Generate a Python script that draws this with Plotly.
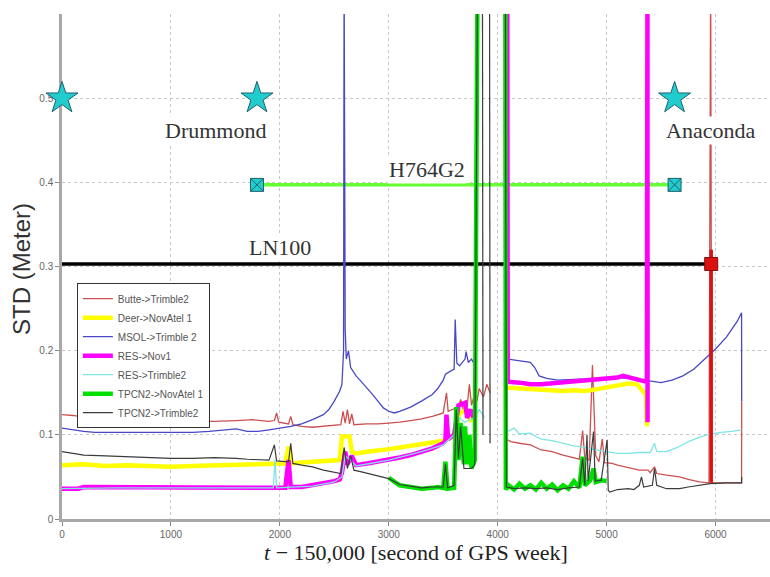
import plotly.graph_objects as go

# ---- receiver-pair STD series (time in s after 150,000 s of GPS week, STD in m) ----
butte_t = [0, 100, 200, 350, 500, 800, 1000, 1200, 1400, 1600, 1750, 1900, 1950, 1970, 1990,
           2080, 2100, 2120, 2200, 2300, 2400, 2500, 2560, 2580, 2600, 2620, 2640, 2660, 2680,
           2800, 2900, 3000, 3100, 3200, 3300, 3400, 3450, 3500, 3530, 3545, 3600, 3640, 3660,
           3680, 3720, 3740, 3760, 3790, 3810, 3830, 3870, 3900, 3930, None,
           4080, 4120, 4200, 4300, 4400, 4500, 4600, 4700, 4750, 4780, 4800, 4840, 4870, 4900,
           4930, 4960, 4980, 5050, 5100, 5200, 5300, 5380, 5400, 5440, 5460, 5550, 5670, 5750,
           5850, 5940, 5955, 5965, 6100, 6239, 6240]
butte_std = [0.124, 0.123, 0.121, 0.119, 0.118, 0.117, 0.116, 0.117, 0.116, 0.117, 0.118, 0.116,
             0.117, 0.126, 0.115, 0.113, 0.122, 0.112, 0.110, 0.109, 0.110, 0.111, 0.112, 0.128,
             0.114, 0.130, 0.113, 0.125, 0.112, 0.113, 0.113, 0.114, 0.115, 0.117, 0.119, 0.122,
             0.124, 0.126, 0.150, 0.128, 0.131, 0.133, 0.142, 0.130, 0.134, 0.160, 0.135, 0.150,
             0.140, 0.155, 0.145, 0.160, 0.150, None,
             0.095, 0.092, 0.090, 0.088, 0.082, 0.080, 0.076, 0.073, 0.071, 0.105, 0.072, 0.070,
             0.183, 0.075, 0.068, 0.095, 0.067, 0.066, 0.064, 0.061, 0.058, 0.058, 0.055, 0.062,
             0.054, 0.052, 0.050, 0.047, 0.044, 0.043, 0.650, 0.043, 0.043, 0.043, 0.140]

deer_t = [0, 200, 400, 600, 800, 1000, 1200, 1400, 1600, 1800, 1950, 2050, 2080, 2110, 2200,
          2300, 2400, 2500, 2550, 2570, 2640, 2660, 2700, 2800, 2900, 3000, 3100, 3200, 3300,
          3400, 3500, 3530, 3600, 3650, 3700, 3760, None,
          4090, 4200, 4300, 4400, 4500, 4600, 4700, 4800, 4900, 5000, 5100, 5200, 5280, 5330,
          5360, 5370]
deer_std = [0.064, 0.065, 0.063, 0.064, 0.063, 0.062, 0.063, 0.064, 0.065, 0.066, 0.066, 0.066,
            0.086, 0.066, 0.067, 0.068, 0.068, 0.069, 0.070, 0.098, 0.098, 0.080, 0.078, 0.080,
            0.081, 0.083, 0.085, 0.087, 0.088, 0.090, 0.093, 0.095, 0.098, 0.125, 0.130, 0.115,
            None,
            0.156, 0.155, 0.154, 0.153, 0.152, 0.152, 0.153, 0.152, 0.154, 0.156, 0.159, 0.161,
            0.160, 0.153, 0.148, 0.110]

msol_t = [0, 100, 200, 300, 500, 800, 1000, 1200, 1350, 1500, 1600, 1700, 1800, 1900, 2000,
          2100, 2200, 2300, 2400, 2450, 2500, 2550, 2570, 2585, 2590, 2600, 2610, 2630, 2650,
          2700, 2750, 2800, 2850, 2900, 2950, 3000, 3050, 3100, 3200, 3300, 3400, 3450, 3500,
          3520, 3560, 3600, 3610, 3625, 3650, 3700, 3710, 3730, 3760, 3780, None,
          4090, 4200, 4300, 4340, 4380, 4450, 4550, 4700, 4900, 5100, 5300, 5400, 5500, 5600,
          5700, 5800, 5900, 6000, 6100, 6200, 6239, 6240]
msol_std = [0.108, 0.106, 0.104, 0.103, 0.103, 0.103, 0.103, 0.103, 0.104, 0.106, 0.107, 0.104,
            0.104, 0.106, 0.108, 0.110, 0.113, 0.118, 0.124, 0.130, 0.140, 0.152, 0.160, 0.200,
            0.650, 0.225, 0.190, 0.200, 0.180, 0.170, 0.163, 0.156, 0.148, 0.140, 0.132, 0.128,
            0.126, 0.128, 0.133, 0.140, 0.148, 0.155, 0.165, 0.172, 0.175, 0.178, 0.237, 0.185,
            0.182, 0.190, 0.199, 0.186, 0.190, 0.185, None,
            0.190, 0.188, 0.186, 0.180, 0.170, 0.167, 0.165, 0.166, 0.167, 0.168, 0.166, 0.164,
            0.162, 0.165, 0.170, 0.178, 0.190, 0.202, 0.216, 0.235, 0.245, 0.140]

resnov_t = [0, 150, 200, 400, 800, 1200, 1600, 1900, 2050, 2080, 2100, 2200, 2300, 2400, 2500,
            2550, 2570, 2600, 2620, 2660, 2700, 2800, 2900, 3000, 3100, 3200, 3300, 3400, 3500,
            3520, 3530, 3545, 3600, 3640, 3700, 3720, 3750, 3780, None,
            4088, 4092, 4200, 4300, 4400, 4500, 4600, 4700, 4800, 4900, 5000, 5100, 5150, 5250,
            5330, 5370, 5375, 5376]
resnov_std = [0.036, 0.036, 0.038, 0.038, 0.038, 0.038, 0.038, 0.038, 0.037, 0.070, 0.038, 0.038,
              0.040, 0.042, 0.045, 0.047, 0.055, 0.080, 0.065, 0.075, 0.064, 0.066, 0.068, 0.070,
              0.073, 0.076, 0.080, 0.084, 0.090, 0.093, 0.124, 0.095, 0.100, 0.135, 0.138, 0.120,
              0.130, 0.120, None,
              0.650, 0.163, 0.162, 0.160, 0.160, 0.161, 0.162, 0.163, 0.164, 0.165, 0.166, 0.168,
              0.170, 0.167, 0.164, 0.163, 0.650, 0.115]

restrim_t = [0, 500, 1000, 1500, 1900, 1940, 1955, 1970, 2300, 2500, 2570, 2600, 2650, 2700,
             3000, 3300, 3500, 3600, 3650, 3700, 3780, 3830, 3880, None,
             4090, 4150, 4200, 4300, 4350, 4400, 4500, 4600, 4700, 4800, 4900, 5000, 5100, 5200,
             5300, 5400, 5440, 5460, 5550, 5650, 5750, 5850, 5950, 6050, 6150, 6239]
restrim_std = [0.036, 0.037, 0.037, 0.037, 0.037, 0.037, 0.070, 0.037, 0.039, 0.044, 0.050,
               0.075, 0.070, 0.063, 0.070, 0.080, 0.088, 0.100, 0.120, 0.115, 0.120, 0.130,
               0.120, None,
               0.104, 0.108, 0.101, 0.102, 0.098, 0.095, 0.093, 0.090, 0.087, 0.085, 0.082,
               0.080, 0.078, 0.078, 0.079, 0.079, 0.090, 0.080, 0.080, 0.085, 0.092, 0.097,
               0.101, 0.103, 0.104, 0.106]

tpcnov_t = [3000, 3050, 3100, 3200, 3300, 3400, 3450, 3500, 3520, 3540, 3600, 3620, 3640, 3660,
            3690, 3700, 3720, 3740, 3760, 3790, 3815, None,
            4070, 4075, 4100, 4150, 4200, 4250, 4300, 4350, 4400, 4450, 4500, 4550, 4600, 4650,
            4700, 4750, 4780, 4800, 4850, 4880, 4900, 4950, 5000]
tpcnov_std = [0.049, 0.044, 0.040, 0.038, 0.036, 0.037, 0.038, 0.037, 0.068, 0.036, 0.037,
              0.133, 0.070, 0.114, 0.065, 0.110, 0.065, 0.100, 0.060, 0.070, 0.650, None,
              0.650, 0.035, 0.040, 0.035, 0.042, 0.036, 0.040, 0.035, 0.043, 0.036, 0.041,
              0.034, 0.040, 0.036, 0.045, 0.037, 0.074, 0.040, 0.046, 0.060, 0.044, 0.046,
              0.045]

tpctrim_t = [0, 100, 200, 400, 600, 800, 1000, 1200, 1400, 1600, 1700, 1900, 1950, 1970, 2080,
             2100, 2120, 2200, 2300, 2400, 2500, 2560, 2590, 2620, 2650, 2680, 2750, 2850, 2950,
             3000, 3100, 3200, 3300, 3400, 3500, 3520, 3540, 3600, 3620, 3640, 3660, 3690, 3720,
             3760, 3790, 3815, None, 3860, 3865, None, 3925, 3930, None,
             4070, 4080, 4150, 4250, 4350, 4450, 4550, 4650, 4750, 4780, 4800, 4820, 4830, 4880,
             4895, 4950, 5005, 5015, 5028, 5100, 5200, 5250, 5300, 5320, 5340, 5420, 5440, 5460,
             5550, 5670, 5750, 5850, 5950, 6100, 6239, 6240]
tpctrim_std = [0.080, 0.078, 0.076, 0.075, 0.074, 0.073, 0.072, 0.072, 0.073, 0.072, 0.071,
               0.070, 0.088, 0.069, 0.068, 0.090, 0.066, 0.064, 0.062, 0.058, 0.055, 0.054,
               0.085, 0.060, 0.075, 0.058, 0.056, 0.053, 0.050, 0.048, 0.041, 0.039, 0.037,
               0.038, 0.038, 0.065, 0.037, 0.040, 0.130, 0.072, 0.110, 0.060, 0.060, 0.060,
               0.065, 0.650, None, 0.650, 0.100, None, 0.650, 0.090, None,
               0.650, 0.038, 0.036, 0.037, 0.036, 0.037, 0.035, 0.037, 0.038, 0.072, 0.040,
               0.100, 0.045, 0.104, 0.045, 0.046, 0.094, 0.034, 0.032, 0.035, 0.036, 0.035,
               0.040, 0.050, 0.038, 0.040, 0.060, 0.040, 0.036, 0.036, 0.038, 0.040, 0.042,
               0.043, 0.043, 0.050]

series_names = ["Butte->Trimble2", "Deer->NovAtel 1", "MSOL->Trimble 2", "RES->Nov1",
                "RES->Trimble2", "TPCN2->NovAtel 1", "TPCN2->Trimble2"]
series_t = [butte_t, deer_t, msol_t, resnov_t, restrim_t, tpcnov_t, tpctrim_t]
series_std = [butte_std, deer_std, msol_std, resnov_std, restrim_std, tpcnov_std, tpctrim_std]
series_colors = ["#cc5050", "#ffff00", "#4848c4", "#ff00ff", "#80e4e4", "#00e000", "#3c3c3c"]
series_widths = [1.3, 4.5, 1.3, 4.5, 1.3, 4.5, 1.2]

# ---- reference grade receivers: specified STD levels ----
ref_labels = ["Drummond", "Anaconda", "H764G2", "LN100"]
star_t = [0, 1790, 5624]
star_std = [0.5, 0.5, 0.5]
h764_t = [1790, 5624]
h764_std = [0.397, 0.397]
ln100_t = [0, 5960]
ln100_std = [0.303, 0.303]
ln100_drop_t = [5960, 5960]
ln100_drop_std = [0.043, 0.320]

x_ticks = [0, 1000, 2000, 3000, 4000, 5000, 6000]
y_ticks = [0, 0.1, 0.2, 0.3, 0.4, 0.5]
y_tick_text = ["0", "0.1", "0.2", "0.3", "0.4", "0.5"]

fig = go.Figure()

# reference levels drawn underneath the measured series
fig.add_trace(go.Scatter(x=h764_t, y=h764_std, mode="lines", showlegend=False,
                         line=dict(color="#66ff33", width=3.5), hoverinfo="skip"))
fig.add_trace(go.Scatter(x=ln100_t, y=ln100_std, mode="lines", showlegend=False,
                         line=dict(color="#000000", width=3.5), hoverinfo="skip"))

for name, t, s, c, w in zip(series_names, series_t, series_std, series_colors, series_widths):
    fig.add_trace(go.Scatter(x=t, y=s, mode="lines", name=name,
                             line=dict(color=c, width=w), connectgaps=False))

fig.add_trace(go.Scatter(x=ln100_drop_t, y=ln100_drop_std, mode="lines", showlegend=False,
                         line=dict(color="#e01010", width=3.5), hoverinfo="skip"))
fig.add_trace(go.Scatter(x=[ln100_t[1]], y=[ln100_std[1]], mode="markers", showlegend=False,
                         marker=dict(symbol="square", size=13, color="#dd1010",
                                     line=dict(color="#801010", width=1)),
                         cliponaxis=False, hoverinfo="skip"))
fig.add_trace(go.Scatter(x=h764_t, y=h764_std, mode="markers", showlegend=False,
                         marker=dict(symbol="square-x", size=13, color="#20cccc",
                                     line=dict(color="#206070", width=1)),
                         cliponaxis=False, hoverinfo="skip"))
fig.add_trace(go.Scatter(x=star_t, y=star_std, mode="markers", showlegend=False,
                         marker=dict(symbol="star", size=24, color="#20cccc",
                                     line=dict(color="#206070", width=1)),
                         cliponaxis=False, hoverinfo="skip"))

serif = "Liberation Serif, Times New Roman, serif"
label_pos = [(1413, 0.461), (5954, 0.461), (3349, 0.415), (2000, 0.323)]
annotations = []
for txt, (ax_t, ax_s) in zip(ref_labels, label_pos):
    annotations.append(dict(x=ax_t, y=ax_s, xref="x", yref="y", text=txt, showarrow=False,
                            font=dict(family=serif, size=22, color="#333333"),
                            bgcolor="white", borderpad=1, xanchor="center", yanchor="middle"))
annotations.append(dict(x=-0.058, y=0.495, xref="paper", yref="paper", text="STD (Meter)",
                        showarrow=False, textangle=-90,
                        font=dict(family="Liberation Sans, Arial, sans-serif", size=24,
                                  color="#333333"),
                        xanchor="center", yanchor="middle"))
annotations.append(dict(x=0.5, y=-0.067, xref="paper", yref="paper",
                        text="<i>t</i> \u2212 150,000 [second of GPS week]", showarrow=False,
                        font=dict(family=serif, size=22, color="#222222"),
                        xanchor="center", yanchor="middle"))

axis_common = dict(showline=True, linecolor="#a8a8a8", linewidth=2.5, ticks="outside",
                   ticklen=4, tickcolor="#888888", showgrid=True, gridcolor="#c8c8c8",
                   griddash="dot", gridwidth=1, zeroline=False, layer="below traces",
                   tickfont=dict(family="Liberation Sans, Arial, sans-serif", size=10,
                                 color="#666666"))

fig.update_layout(
    width=770, height=577,
    margin=dict(l=62, r=0, t=14, b=58),
    paper_bgcolor="white", plot_bgcolor="white",
    xaxis=dict(range=[0, 6500], tickvals=x_ticks, **axis_common),
    yaxis=dict(range=[0, 0.6], tickvals=y_ticks, ticktext=y_tick_text, **axis_common),
    legend=dict(x=0.021, y=0.467, xanchor="left", yanchor="top", bgcolor="white",
                bordercolor="#333333", borderwidth=1, tracegroupgap=0, itemwidth=30,
                font=dict(family="Liberation Sans, Arial, sans-serif", size=10,
                          color="#555555")),
    annotations=annotations,
    showlegend=True,
)

fig.write_html("out.html")
